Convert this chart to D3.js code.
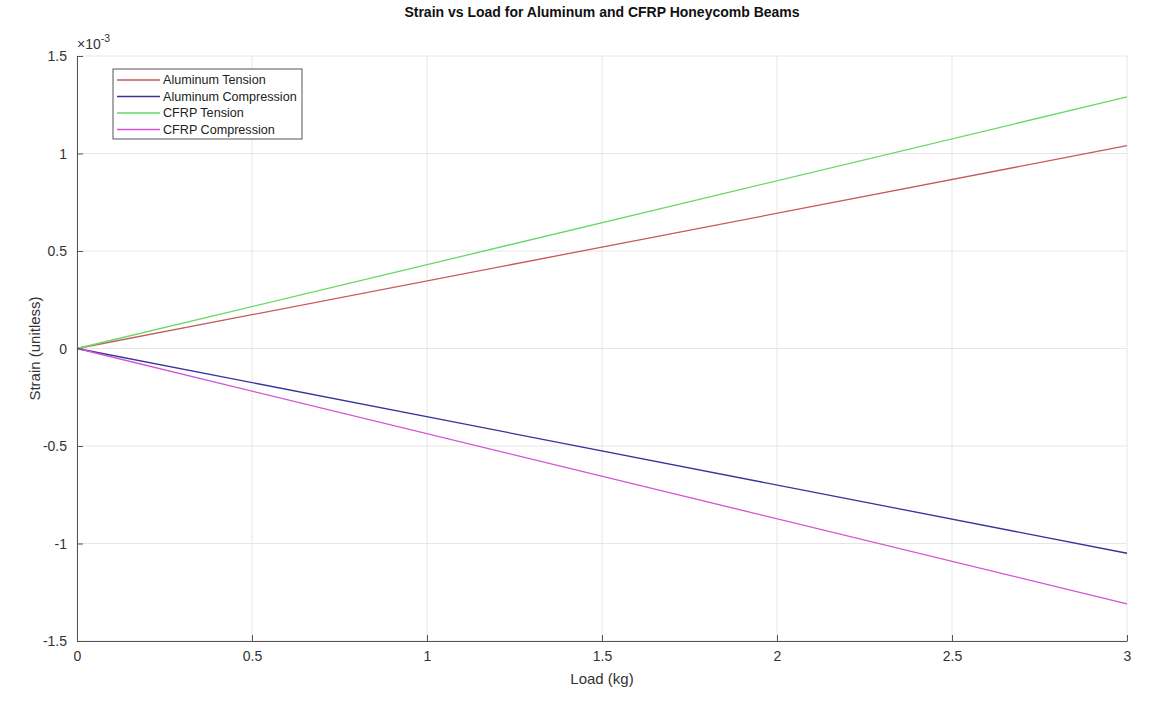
<!DOCTYPE html>
<html>
<head>
<meta charset="utf-8">
<script src="https://cdn.jsdelivr.net/npm/d3@7"></script>
<style>
  body { margin: 0; background: #fff; }
  text { font-family: "Liberation Sans", Arial, sans-serif; }
</style>
</head>
<body>
<svg id="chart" width="1170" height="721"></svg>
<script>
// data (strain in units of 1e-3)
const loads = [0, 3];
const alTension = [0, 1.04];
const alCompression = [0, -1.05];
const cfrpTension = [0, 1.29];
const cfrpCompression = [0, -1.31];
const xTicks = [0, 0.5, 1, 1.5, 2, 2.5, 3];
const yTicks = [-1.5, -1, -0.5, 0, 0.5, 1, 1.5];

const series = [
  {name: 'Aluminum Tension', values: alTension, color: '#c65a5a'},
  {name: 'Aluminum Compression', values: alCompression, color: '#34349a'},
  {name: 'CFRP Tension', values: cfrpTension, color: '#66d966'},
  {name: 'CFRP Compression', values: cfrpCompression, color: '#d452d4'}
];

const margin = {top: 56, right: 43, bottom: 80, left: 77};
const svg = d3.select('#chart');
const width = +svg.attr('width') - margin.left - margin.right;
const height = +svg.attr('height') - margin.top - margin.bottom;

const g = svg.append('g')
  .attr('transform', 'translate(' + margin.left + ',' + margin.top + ')');

const x = d3.scaleLinear().domain([0, 3]).range([0, width]);
const y = d3.scaleLinear().domain([-1.5, 1.5]).range([height, 0]);

// grid
g.append('g')
  .selectAll('line')
  .data(xTicks)
  .join('line')
  .attr('x1', d => x(d)).attr('x2', d => x(d))
  .attr('y1', 0).attr('y2', height)
  .attr('stroke', '#e6e6e6');
g.append('g')
  .selectAll('line')
  .data(yTicks)
  .join('line')
  .attr('x1', 0).attr('x2', width)
  .attr('y1', d => y(d)).attr('y2', d => y(d))
  .attr('stroke', '#e6e6e6');

// lines
const line = d3.line()
  .x((d, i) => x(loads[i]))
  .y(d => y(d));

series.forEach(s => {
  g.append('path')
    .datum(s.values)
    .attr('fill', 'none')
    .attr('stroke', s.color)
    .attr('stroke-width', 1.3)
    .attr('d', line);
});

// axes
const fmt = d => String(d);
const xAxis = g.append('g')
  .attr('transform', 'translate(0,' + height + ')')
  .call(d3.axisBottom(x).tickValues(xTicks).tickSizeInner(-6).tickSizeOuter(0).tickPadding(10).tickFormat(fmt));
const yAxis = g.append('g')
  .call(d3.axisLeft(y).tickValues(yTicks).tickSizeInner(-6).tickSizeOuter(0).tickPadding(10).tickFormat(fmt));

[xAxis, yAxis].forEach(a => {
  a.select('.domain').attr('stroke', '#555');
  a.selectAll('.tick line').attr('stroke', '#555');
  a.selectAll('.tick text').attr('fill', '#333').style('font-size', '14px')
    .style('font-family', '"Liberation Sans", Arial, sans-serif');
});
yAxis.selectAll('.tick text').attr('dy', '0.35em');

// exponent
const expo = g.append('text')
  .attr('x', 0).attr('y', -7)
  .attr('fill', '#333')
  .style('font-size', '14px');
expo.append('tspan').text('\u00d710');
expo.append('tspan').attr('dy', -7).style('font-size', '10.5px').text('-3');

// labels
svg.append('text')
  .attr('x', margin.left + width / 2).attr('y', 17)
  .attr('text-anchor', 'middle')
  .style('font-size', '14px').style('font-weight', 'bold')
  .attr('fill', '#111')
  .text('Strain vs Load for Aluminum and CFRP Honeycomb Beams');
svg.append('text')
  .attr('x', margin.left + width / 2).attr('y', 684)
  .attr('text-anchor', 'middle')
  .style('font-size', '15px')
  .attr('fill', '#333')
  .text('Load (kg)');
svg.append('text')
  .attr('transform', 'translate(40,' + (margin.top + height / 2) + ') rotate(-90)')
  .attr('text-anchor', 'middle')
  .style('font-size', '15px')
  .attr('fill', '#333')
  .text('Strain (unitless)');

// legend
const legend = g.append('g').attr('transform', 'translate(36,13)');
legend.append('rect')
  .attr('width', 189).attr('height', 70)
  .attr('fill', '#fff').attr('stroke', '#555');
series.forEach((s, i) => {
  const row = legend.append('g').attr('transform', 'translate(0,' + (11 + i * 16.5) + ')');
  row.append('line')
    .attr('x1', 4).attr('x2', 47)
    .attr('stroke', s.color).attr('stroke-width', 1.3);
  row.append('text')
    .attr('x', 50).attr('dy', '0.35em')
    .attr('fill', '#222')
    .style('font-size', '12.6px')
    .text(s.name);
});
</script>
</body>
</html>
